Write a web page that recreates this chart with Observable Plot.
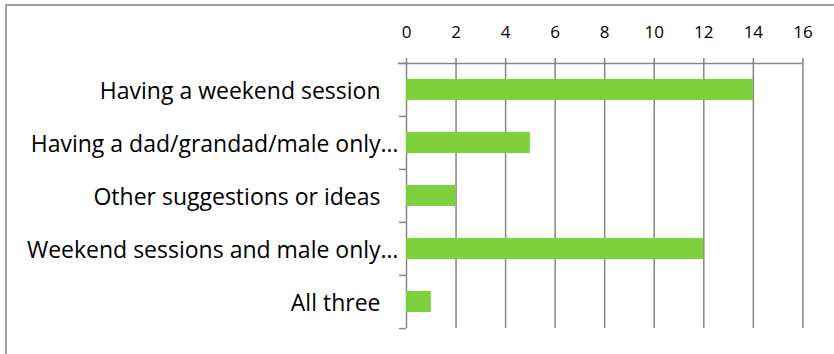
<!DOCTYPE html>
<html><head>
<meta charset="utf-8">
<script src="https://cdn.jsdelivr.net/npm/d3@7"></script>
<script src="https://cdn.jsdelivr.net/npm/@observablehq/plot@0.6"></script>
<style>
  html, body { margin: 0; padding: 0; background: #fff; }
  #wrap { position: relative; width: 834px; height: 354px; overflow: hidden; }
  #border { position: absolute; left: 5px; top: 4px; width: 900px; height: 400px;
            border-top: 2px solid #a0a0a0; border-left: 2px solid #a0a0a0; pointer-events: none; }
  #chart svg { display: block; }
</style>
</head>
<body>
<div id="wrap"><div id="chart"></div><div id="border"></div></div>
<script>
const categories = [
  "Having a weekend session",
  "Having a dad/grandad/male only…",
  "Other suggestions or ideas",
  "Weekend sessions and male only…",
  "All three"
];
const values = [14, 5, 2, 12, 1];
const xTicks = [0, 2, 4, 6, 8, 10, 12, 14, 16];

const data = categories.map((c, i) => ({category: c, value: values[i]}));

const W = 834, H = 354, mT = 62, mB = 26, mL = 406, mR = 31.6;
const step = (H - mT - mB) / categories.length;
const grey = "#868686";

const chart = Plot.plot({
  width: W, height: H,
  marginTop: mT, marginBottom: mB, marginLeft: mL, marginRight: mR,
  style: {fontFamily: "'Open Sans', sans-serif", background: "transparent"},
  x: {domain: [0, 16], axis: null},
  y: {domain: categories, padding: 0, axis: null},
  marks: [
    Plot.ruleX(xTicks, {stroke: grey, strokeWidth: 1.5}),
    Plot.barX(data, {y: "category", x: "value", fill: "#7dd13d", insetTop: step * 0.3, insetBottom: step * 0.3}),
    Plot.ruleY([categories[0]], {y: d => d, x1: 0, x2: 16, dy: -step / 2, insetLeft: -8, stroke: grey, strokeWidth: 1.5}),
    Plot.ruleY(categories, {y: d => d, x1: 0, x2: 0, dy: -step / 2, insetLeft: -7, stroke: grey, strokeWidth: 1.5}),
    Plot.ruleY([categories[categories.length - 1]], {y: d => d, x1: 0, x2: 0, dy: step / 2, insetLeft: -7, stroke: grey, strokeWidth: 1.5}),
    Plot.axisX({anchor: "top", ticks: xTicks, tickSize: 5, tickPadding: 20, fontSize: 17, stroke: grey, strokeWidth: 1.5, fill: "#000", label: null, tickFormat: d => String(d)}),
    Plot.text(categories.filter(c => !c.endsWith("…")), {y: d => d, text: d => d, frameAnchor: "left", textAnchor: "end", dx: -26, dy: 2, fontSize: 23, fill: "#000"}),
    Plot.text(categories.filter(c => c.endsWith("…")), {y: d => d, text: d => d, frameAnchor: "left", textAnchor: "end", dx: -8, dy: 2, fontSize: 23, fill: "#000"})
  ]
});
document.getElementById("chart").appendChild(chart);
</script>
</body></html>
